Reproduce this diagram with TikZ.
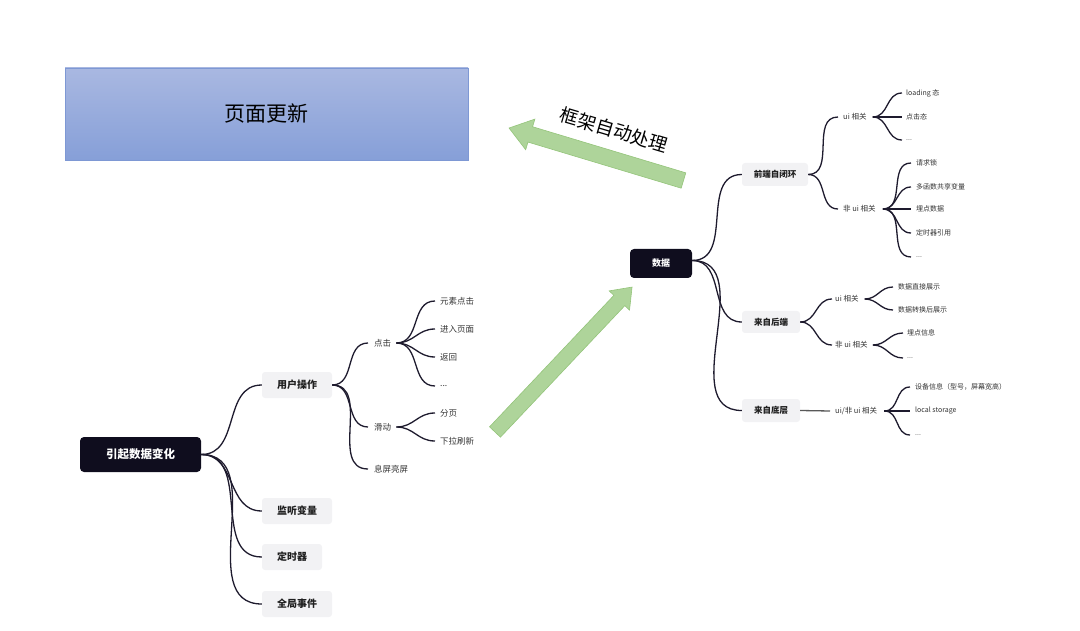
\documentclass[tikz,border=0pt]{standalone}
\usepackage{fontspec}
\setmainfont{Noto Sans CJK SC}
\usetikzlibrary{calc}
\definecolor{darkbox}{HTML}{0F0D1E}
\definecolor{graybox}{HTML}{F2F2F4}
\definecolor{linec}{HTML}{1E1B2E}
\definecolor{txt}{HTML}{333333}
\definecolor{bluetop}{HTML}{A9B8E1}
\definecolor{bluebot}{HTML}{869FD8}
\definecolor{blueedge}{HTML}{7E98D4}
\definecolor{arrfill}{HTML}{AED49A}
\definecolor{arredge}{HTML}{94C47A}
\begin{document}
\begin{tikzpicture}[x=1pt,y=-1pt,
  rootbox/.style={fill=darkbox, rounded corners=4pt, text=white, inner sep=0pt},
  lvlbox/.style={fill=graybox, rounded corners=3pt, text=black!88, inner sep=0pt},
  lbl/.style={anchor=west, inner sep=0pt, text=txt},
  conn/.style={draw=linec, line width=1.3pt},
  arrowsty/.style={fill=arrfill, draw=arredge, line width=0.6pt},
  bigL/.style={font=\bfseries\fontsize{11.5}{12}\selectfont},
  midL/.style={font=\bfseries\fontsize{10}{12}\selectfont},
  leafL/.style={font=\fontsize{8.5}{10}\selectfont},
  dataL/.style={font=\bfseries\fontsize{9}{10}\selectfont},
  rmidL/.style={font=\bfseries\fontsize{8.5}{10}\selectfont},
  rsubL/.style={font=\fontsize{7.5}{9}\selectfont},
  rleafL/.style={font=\fontsize{7}{9}\selectfont}
]
\useasboundingbox (0,0) rectangle (1080,631);

% page update box
\node[draw=blueedge, line width=0.6pt, top color=bluetop, bottom color=bluebot,
  minimum width=403pt, minimum height=92pt, inner sep=0pt, font=\fontsize{21}{22}\selectfont] (pu) at (266.5,114) {页面更新};

% green arrows
\begin{scope}[shift={(683.5,180.5)}, rotate=163.26]
\draw[arrowsty] (0,-8) -- (160,-8) -- (160,-16) -- (182.2,0) -- (160,16) -- (160,8) -- (0,8) -- cycle;
\end{scope}
\node[rotate=-16.5, inner sep=0pt, font=\fontsize{18.5}{20}\selectfont] (fk) at (614,130) {框架自动处理};
\begin{scope}[shift={(495,432)}, rotate=46.6]
\draw[arrowsty] (0,-7.5) -- (181,-7.5) -- (181,-14) -- (199.5,0) -- (181,14) -- (181,7.5) -- (0,7.5) -- cycle;
\end{scope}

% ---------- left tree ----------
\node[rootbox, bigL, minimum width=121pt, minimum height=35pt] (root) at (140.5,454.5) {引起数据变化};
\node[lvlbox, midL, minimum width=70pt, minimum height=26pt] (u1) at (297,385) {用户操作};
\node[lvlbox, midL, minimum width=70pt, minimum height=26pt] (u2) at (297,511) {监听变量};
\node[lvlbox, midL, minimum width=60pt, minimum height=26pt] (u3) at (292,557) {定时器};
\node[lvlbox, midL, minimum width=70pt, minimum height=26pt] (u4) at (297,604) {全局事件};

\node[lbl, leafL] (dj) at (374,343) {点击};
\node[lbl, leafL] (hd) at (374,427) {滑动};
\node[lbl, leafL] (xp) at (374,469) {息屏亮屏};

\node[lbl, leafL] (l1) at (440,301) {元素点击};
\node[lbl, leafL] (l2) at (440,329) {进入页面};
\node[lbl, leafL] (l3) at (440,357) {返回};
\node[lbl, leafL] (l4) at (440,386) {...};
\node[lbl, leafL] (l5) at (440,413) {分页};
\node[lbl, leafL] (l6) at (440,441) {下拉刷新};

\foreach \c in {u1,u2,u3,u4}
  \draw[conn] (root.east) to[out=0,in=180,looseness=1.1] (\c.west);
\foreach \c in {dj,hd,xp}
  \draw[conn] (u1.east) to[out=0,in=180,looseness=1.1] ([xshift=-6pt]\c.west);
\foreach \c in {l1,l2,l3,l4}
  \draw[conn] ([xshift=5pt]dj.east) to[out=0,in=180,looseness=1.1] ([xshift=-5pt]\c.west);
\foreach \c in {l5,l6}
  \draw[conn] ([xshift=5pt]hd.east) to[out=0,in=180,looseness=1.1] ([xshift=-5pt]\c.west);

% ---------- right tree ----------
\node[rootbox, dataL, minimum width=62pt, minimum height=29pt] (data) at (661,263.5) {数据};
\node[lvlbox, rmidL, minimum width=66pt, minimum height=23pt] (f1) at (775,174.5) {前端自闭环};
\node[lvlbox, rmidL, minimum width=58pt, minimum height=22pt] (f2) at (771,322) {来自后端};
\node[lvlbox, rmidL, minimum width=58pt, minimum height=23pt] (f3) at (771,410.5) {来自底层};

\node[lbl, rsubL] (ua) at (843,117) {ui 相关};
\node[lbl, rsubL] (na) at (843,209) {非 ui 相关};
\node[lbl, rsubL] (ub) at (835,299) {ui 相关};
\node[lbl, rsubL] (nb) at (835,345) {非 ui 相关};
\node[lbl, rsubL] (uc) at (835,411) {ui/非 ui 相关};

\node[lbl, rleafL] (a1) at (906,93) {loading 态};
\node[lbl, rleafL] (a2) at (906,117) {点击态};
\node[lbl, rleafL] (a3) at (906,140) {...};
\node[lbl, rleafL] (b1) at (916,163) {请求锁};
\node[lbl, rleafL] (b2) at (916,187) {多函数共享变量};
\node[lbl, rleafL] (b3) at (916,209) {埋点数据};
\node[lbl, rleafL] (b4) at (916,233) {定时器引用};
\node[lbl, rleafL] (b5) at (916,257) {...};
\node[lbl, rleafL] (c1) at (898,287) {数据直接展示};
\node[lbl, rleafL] (c2) at (898,310) {数据转换后展示};
\node[lbl, rleafL] (d1) at (907,333) {埋点信息};
\node[lbl, rleafL] (d2) at (907,358) {...};
\node[lbl, rleafL] (e1) at (915,387) {设备信息（型号，屏幕宽高）};
\node[lbl, rleafL] (e2) at (915,411) {local storage};
\node[lbl, rleafL] (e3) at (915,435) {...};

\foreach \c in {f1,f2,f3}
  \draw[conn] ([yshift=3pt]data.east) to[out=0,in=180,looseness=1.1] (\c.west);
\foreach \c in {ua,na}
  \draw[conn] (f1.east) to[out=0,in=180,looseness=1.1] ([xshift=-5pt]\c.west);
\foreach \c in {ub,nb}
  \draw[conn] (f2.east) to[out=0,in=180,looseness=1.1] ([xshift=-3pt]\c.west);
\draw[conn, draw=black!65] (f3.east) -- ([xshift=-5pt]uc.west);
\foreach \c in {a1,a2,a3}
  \draw[conn] ([xshift=6pt]ua.east) to[out=0,in=180,looseness=1.1] ([xshift=-4pt]\c.west);
\foreach \c in {b1,b2,b3,b4,b5}
  \draw[conn] ([xshift=7pt]na.east) to[out=0,in=180,looseness=1.1] ([xshift=-5pt]\c.west);
\foreach \c in {c1,c2}
  \draw[conn] ([xshift=6pt]ub.east) to[out=0,in=180,looseness=1.1] ([xshift=-5pt]\c.west);
\foreach \c in {d1,d2}
  \draw[conn] ([xshift=5pt]nb.east) to[out=0,in=180,looseness=1.1] ([xshift=-4pt]\c.west);
\foreach \c in {e1,e2,e3}
  \draw[conn] ([xshift=7pt]uc.east) to[out=0,in=180,looseness=1.1] ([xshift=-5pt]\c.west);
\end{tikzpicture}
\end{document}
